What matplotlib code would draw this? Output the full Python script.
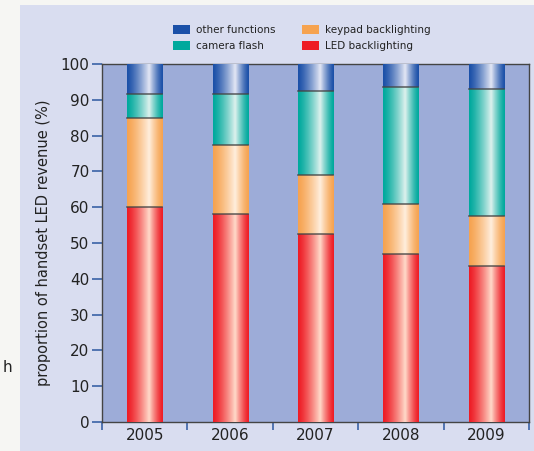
import numpy as np
import matplotlib.pyplot as plt
from matplotlib.patches import Rectangle
from matplotlib.colors import LinearSegmentedColormap

years = ['2005', '2006', '2007', '2008', '2009']
led_backlighting = [60, 58, 52.5, 47, 43.5]
keypad_backlighting = [25, 19.5, 16.5, 14, 14]
camera_flash = [6.5, 14, 23.5, 32.5, 35.5]
other_functions = [8.5, 8.5, 7.5, 6.5, 7]

series = [
    ('LED backlighting', led_backlighting, '#ee1c25', '#ffd9c9'),
    ('keypad backlighting', keypad_backlighting, '#f6a350', '#ffeedd'),
    ('camera flash', camera_flash, '#00a99d', '#dcf1ed'),
    ('other functions', other_functions, '#1b50a8', '#e2e6f4'),
]

fig = plt.figure(figsize=(5.34, 4.51), dpi=100)
fig.patch.set_facecolor('#f6f6f3')
fig.add_artist(Rectangle((20 / 534, 0), 1, 1 - 5 / 451, transform=fig.transFigure,
                         facecolor='#d9ddf0', edgecolor='none', zorder=0))
fig.text(3 / 534, 1 - 367 / 451, 'h', fontsize=11, va='center', ha='left', color='#222222')

ax = fig.add_axes([102 / 534, 1 - 422 / 451, 427 / 534, 358 / 451])
ax.set_facecolor('#9dacd8')

# horizontal cylinder-like shading profile
xs = np.linspace(0, 1, 64)
prof = np.clip(1 - np.abs(xs - 0.62) / 0.62, 0, 1) ** 1.3
prof[xs > 0.62] = np.clip(1 - (xs[xs > 0.62] - 0.62) / 0.38, 0, 1) ** 1.3

x = np.arange(len(years))
width = 0.41
bottom = np.zeros(len(years))
handles = []
for name, vals, edge, light in series:
    vals = np.array(vals, dtype=float)
    bars = ax.bar(x, vals, width, bottom=bottom, color=edge, edgecolor='none', zorder=2, label=name)
    cmap = LinearSegmentedColormap.from_list(name, [edge, light])
    for b in bars:
        x0, y0 = b.get_x(), b.get_y()
        im = ax.imshow(prof[np.newaxis, :], cmap=cmap, vmin=0, vmax=1, aspect='auto',
                       extent=(x0, x0 + b.get_width(), y0, y0 + b.get_height()),
                       zorder=3, interpolation='bilinear')
        im.set_clip_path(b)
        if y0 > 0:
            ax.plot([x0, x0 + b.get_width()], [y0, y0], color='#444444', lw=1.2, zorder=4, alpha=0.8)
    handles.append(Rectangle((0, 0), 1, 1, facecolor=edge, edgecolor='none', label=name))
    bottom += vals

ax.set_xlim(-0.5, 4.5)
ax.set_ylim(0, 100)
ax.set_xticks(np.arange(-0.5, 5, 1))
ax.set_xticklabels([])
ax.set_xticks(x, minor=True)
ax.set_xticklabels(years, minor=True)
ax.tick_params(axis='x', which='major', direction='out', length=6, color='#3a62a6', width=1.2)
ax.tick_params(axis='x', which='minor', length=0, labelsize=11, labelcolor='#222222', pad=4)
ax.set_yticks(range(0, 101, 10))
ax.tick_params(axis='y', direction='out', length=7, color='#3a62a6', width=1.2,
               labelsize=11, labelcolor='#222222', pad=2)
for s in ax.spines.values():
    s.set_color('#444444')
    s.set_linewidth(1.0)
ax.set_ylabel('proportion of handset LED revenue (%)', fontsize=10.5, color='#222222', labelpad=7)

order = [3, 2, 1, 0]
leg = fig.legend([handles[i] for i in order], [series[i][0] for i in order], ncol=2,
                 loc='center', bbox_to_anchor=(302 / 534, 1 - 38 / 451), frameon=False,
                 fontsize=7.5, handlelength=1.6, handleheight=0.9, columnspacing=2.6,
                 handletextpad=0.6, labelspacing=0.55)
for t in leg.get_texts():
    t.set_color('#222222')

fig.savefig('out.png', dpi=100, facecolor=fig.get_facecolor())
